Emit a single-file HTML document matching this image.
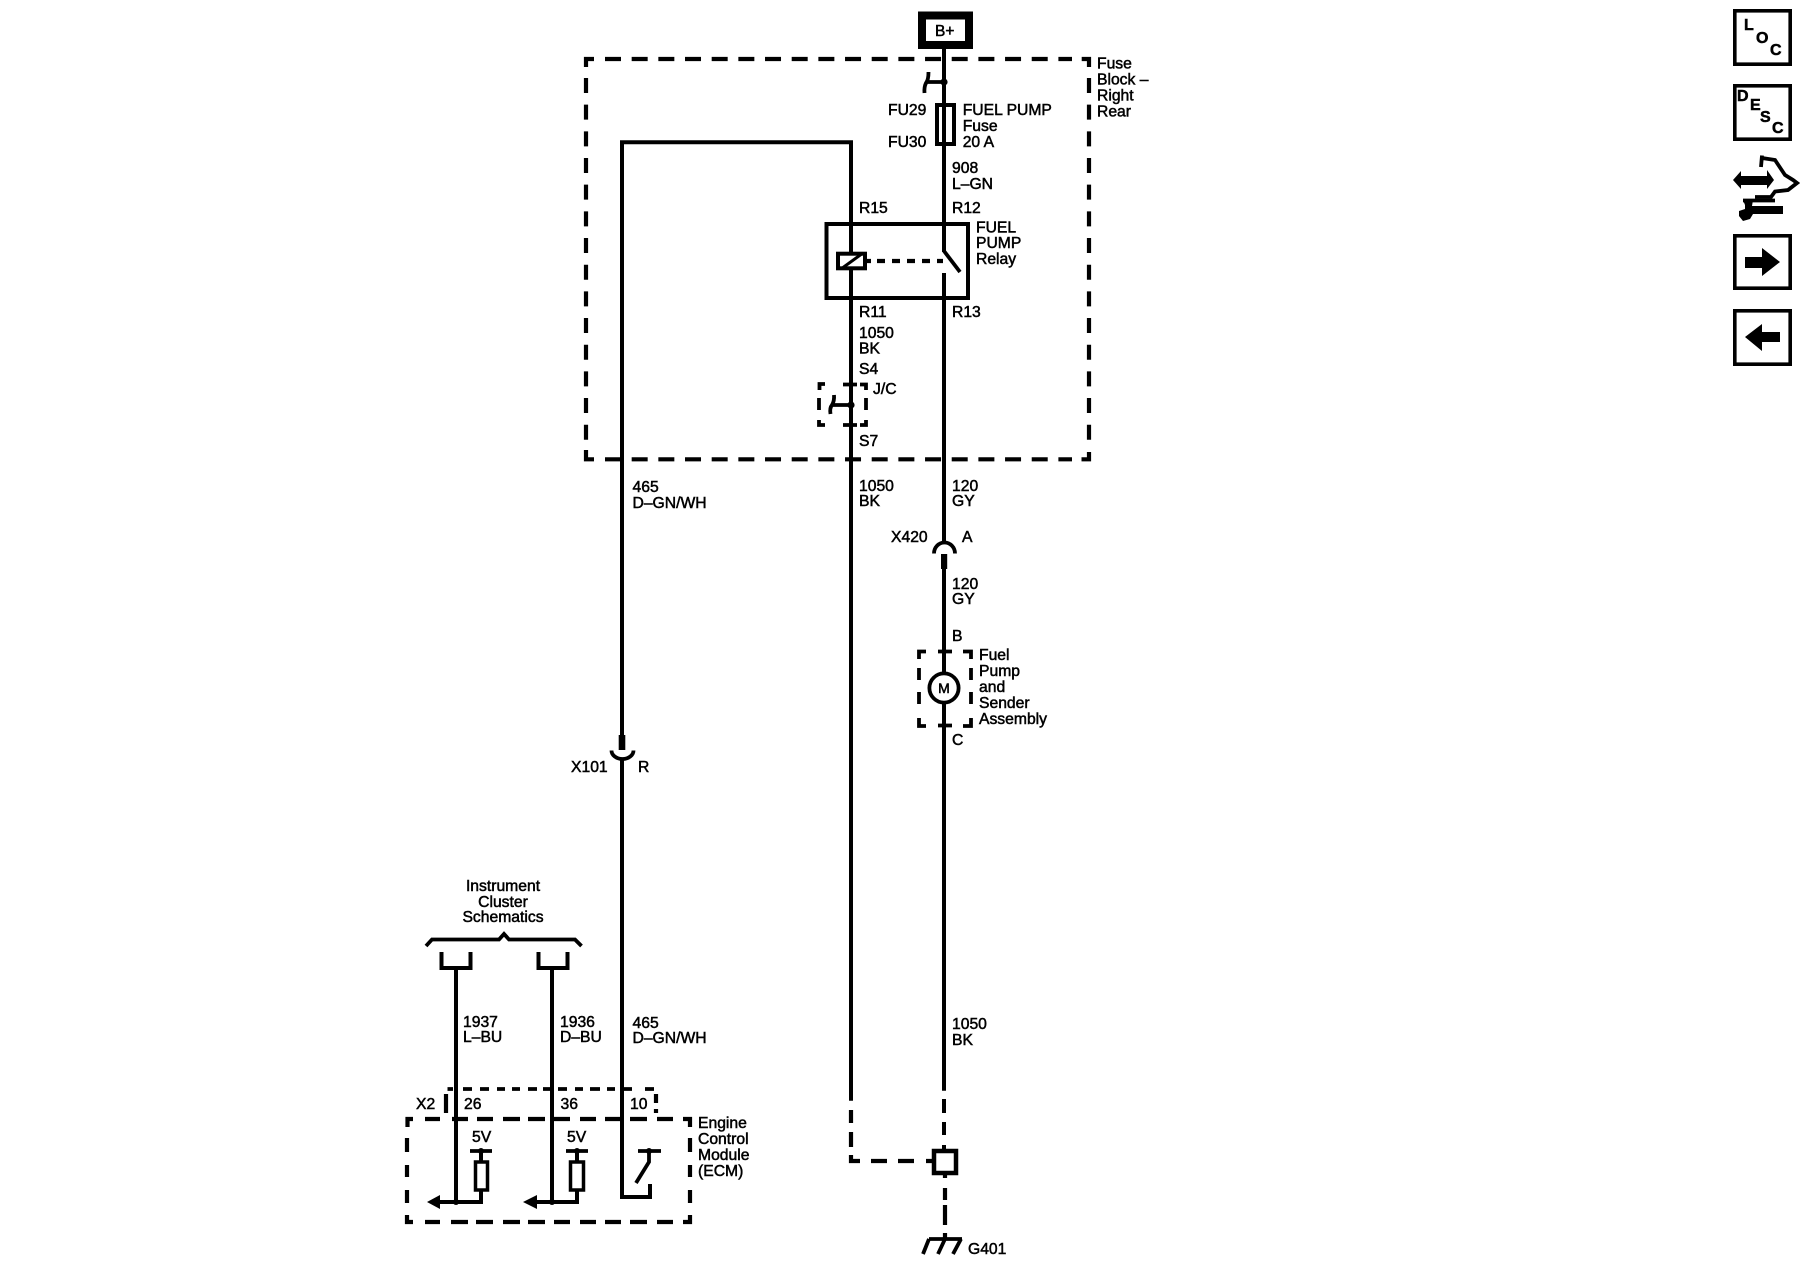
<!DOCTYPE html>
<html>
<head>
<meta charset="utf-8">
<title>Fuel Pump Schematic</title>
<style>
html,body{margin:0;padding:0;background:#fff;width:1800px;height:1280px;overflow:hidden}
svg{display:block}
text{font-family:"Liberation Sans",sans-serif;font-size:15.7px;fill:#000;stroke:#000;stroke-width:.5}
.w{fill:none;stroke:#000;stroke-width:4}
.d{fill:none;stroke:#000;stroke-width:4.2}
.t{fill:none;stroke:#000;stroke-width:3.8}
.b{font-weight:bold;font-size:16px}
</style>
</head>
<body>
<svg width="1800" height="1280" viewBox="0 0 1800 1280" xmlns="http://www.w3.org/2000/svg">
<!-- B+ -->
<rect x="922" y="15.5" width="47" height="29.5" fill="#fff" stroke="#000" stroke-width="8"/>
<text x="935" y="36" style="font-size:15.5px">B+</text>

<!-- Fuse block dashed -->
<path class="d" d="M594 59H586V67"/>
<path class="d" d="M605 59H1072" stroke-dasharray="16 10.67"/>
<path class="d" d="M1081.7 59H1089V67"/>
<path class="d" d="M1089 78V441" stroke-dasharray="15 11.67"/>
<path class="d" d="M1089 452V459.3H1081.5"/>
<path class="d" d="M605 459.3H1072" stroke-dasharray="16 10.67"/>
<path class="d" d="M586 450V459.3H594"/>
<path class="d" d="M586 78V441" stroke-dasharray="15 11.67"/>

<!-- Main right wire -->
<path class="w" d="M944 49V252"/>
<path class="w" d="M944 273V541"/>
<path class="w" d="M944 568V672"/>
<path class="w" d="M944 704V1090.7"/>
<path class="w" d="M944 1099V1113M944 1122V1135M944 1145V1149"/>
<path class="d" d="M945 1175V1178M945 1188V1200M945 1205V1225M945 1233V1239"/>

<!-- Top splice -->
<circle cx="944" cy="82" r="3.6"/>
<path class="t" d="M926 82H944"/>
<path class="t" stroke-width="4" d="M928.5 72Q928.5 80 926 83Q924 87 924.5 93"/>

<!-- Fuse -->
<rect x="937" y="105" width="17" height="39" fill="none" stroke="#000" stroke-width="4"/>

<!-- Left wire / top run -->
<path class="w" d="M622 735V142.2H851V1100.7"/>
<rect x="618.7" y="735" width="6.6" height="15"/>
<path class="t" stroke-width="4" d="M611.5 750.5A11 8.5 0 0 0 633.5 750.5"/>
<path class="w" d="M622 759V1197H650V1184"/>

<!-- Relay -->
<rect x="826.5" y="224" width="141.5" height="74" fill="none" stroke="#000" stroke-width="4"/>
<rect x="838" y="253.7" width="27" height="14.6" fill="#fff" stroke="#000" stroke-width="4"/>
<path d="M851 248V253M851 268V274" class="w"/>
<path d="M843 267.5L863 253" stroke="#000" stroke-width="3" fill="none"/>
<path class="d" d="M867 261H871M877 261H885M892 261H900M907 261H915M922 261H930M937 261H943"/>
<path class="t" d="M944 251L960 272"/>

<!-- J/C box -->
<path class="t" d="M825 384H819.5V390M819 398V410M819 420V425H825M843 384.5H857M860 384.5H866V390M866 398V410M866 420V425H860M843 425H857"/>
<circle cx="851" cy="405" r="3.6"/>
<path class="t" d="M833 405H851"/>
<path class="t" stroke-width="4" d="M834 395Q834.5 401 832 405Q829.5 408 830.5 414"/>

<!-- X420 -->
<path class="t" stroke-width="4" d="M934 553.5A10.5 11 0 0 1 955 553.5"/>
<rect x="941" y="554" width="6.2" height="15"/>

<!-- Motor -->
<path class="t" d="M926 651.5H919V659M919 668V680M919 692V704M919 718V726H926M938 651.5H952M963 651.5H971V659M971 668V680M971 692V704M971 718V726H963M938 725.5H952"/>
<circle cx="944" cy="688" r="14.6" fill="#fff" stroke="#000" stroke-width="3.8"/>
<text x="944" y="693" text-anchor="middle" style="font-size:14px">M</text>

<!-- Ground section -->
<path class="d" d="M851 1110V1123M851 1132V1147"/>
<path class="d" d="M851 1155V1161H860M871 1161H887M898 1161H914M926 1161H932"/>
<rect x="934" y="1151" width="22" height="22" fill="#fff" stroke="#000" stroke-width="4.5"/>
<path class="t" d="M929 1239H962M929 1239L923 1254M945 1239L938 1254M961 1239L953 1254"/>

<!-- Instrument cluster -->
<path class="t" d="M426 946L432 939.5H499L504 934L509 939.5H575L581.5 946"/>
<path class="w" d="M441.5 952V968H470.5V952"/>
<path class="w" d="M538.5 952V968H567.5V952"/>
<path class="w" d="M456 968V1202"/>
<path class="w" d="M552 968V1202"/>

<!-- X2 dashed -->
<path class="t" d="M447.5 1089H453M463 1089H472M480 1089H489M497 1089H505M512 1089H520M528 1089H537M543 1089H550M558 1089H567M575 1089H583M590 1089H600M607 1089H615M622 1089H632M645 1089H654"/>
<path class="d" d="M446 1094V1113M656 1094V1103M656 1109V1113"/>

<!-- ECM dashed -->
<path class="d" d="M413 1119H407.5V1127M425 1119H440M452 1119H468M477 1119H493M503 1119H520M528 1119H545M554 1119H570M580 1119H596M605 1119H621M630 1119H647M657 1119H673M683 1119H690V1127"/>
<path class="d" d="M407 1138V1152M407 1165V1177M407 1190V1203M407 1215V1222H413M425 1222H440M451 1222H468M476 1222H493M503 1222H520M528 1222H545M554 1222H570M580 1222H596M605 1222H621M630 1222H647M657 1222H673M683 1222H690V1215M690 1203V1190M690 1177V1165M690 1152V1138"/>

<!-- ECM internals -->
<path class="t" stroke-width="4" d="M470 1151H492M566 1151H588M638 1151H661"/>
<circle cx="481" cy="1151" r="3"/><circle cx="577" cy="1151" r="3"/><circle cx="649" cy="1151" r="3"/>
<path class="w" d="M481 1151V1161"/><path class="w" d="M577 1151V1161"/>
<rect x="475.5" y="1162" width="12" height="28" fill="#fff" stroke="#000" stroke-width="3.5"/>
<rect x="570.5" y="1162" width="13" height="28" fill="#fff" stroke="#000" stroke-width="3.5"/>
<path class="w" d="M481 1190V1202H438"/>
<path class="w" d="M577 1190V1202H534"/>
<path d="M427 1202L440 1195V1209Z"/><path d="M523 1202L537 1195V1209Z"/>
<circle cx="456" cy="1202" r="3"/><circle cx="552" cy="1202" r="3"/>
<path class="t" d="M649 1151V1162L636 1183"/>

<!-- Labels -->
<text x="1097" y="68.3">Fuse</text>
<text x="1097" y="84.3">Block –</text>
<text x="1097" y="100.5">Right</text>
<text x="1097" y="116.5">Rear</text>
<text x="888" y="115">FU29</text>
<text x="888" y="147">FU30</text>
<text x="962.7" y="115">FUEL PUMP</text>
<text x="962.7" y="131">Fuse</text>
<text x="962.7" y="147">20 A</text>
<text x="952" y="173">908</text>
<text x="952" y="189">L–GN</text>
<text x="859" y="213">R15</text>
<text x="952" y="213">R12</text>
<text x="976" y="232.5">FUEL</text>
<text x="976" y="248">PUMP</text>
<text x="976" y="264">Relay</text>
<text x="859" y="317">R11</text>
<text x="952" y="317">R13</text>
<text x="859" y="338">1050</text>
<text x="859" y="353.5">BK</text>
<text x="859" y="374">S4</text>
<text x="873" y="394">J/C</text>
<text x="859" y="446">S7</text>
<text x="632.5" y="492">465</text>
<text x="632.5" y="508">D–GN/WH</text>
<text x="859" y="491">1050</text>
<text x="859" y="506">BK</text>
<text x="952" y="491">120</text>
<text x="952" y="506">GY</text>
<text x="891" y="542">X420</text>
<text x="962" y="542">A</text>
<text x="952" y="589">120</text>
<text x="952" y="604">GY</text>
<text x="952" y="641">B</text>
<text x="979" y="660">Fuel</text>
<text x="979" y="676">Pump</text>
<text x="979" y="692">and</text>
<text x="979" y="708">Sender</text>
<text x="979" y="724">Assembly</text>
<text x="952" y="745">C</text>
<text x="571" y="772">X101</text>
<text x="638" y="772">R</text>
<text x="503" y="891" text-anchor="middle">Instrument</text>
<text x="503" y="907" text-anchor="middle">Cluster</text>
<text x="503" y="922" text-anchor="middle">Schematics</text>
<text x="463" y="1027">1937</text>
<text x="463" y="1042">L–BU</text>
<text x="560" y="1027">1936</text>
<text x="560" y="1042">D–BU</text>
<text x="632.5" y="1028">465</text>
<text x="632.5" y="1043">D–GN/WH</text>
<text x="952" y="1029">1050</text>
<text x="952" y="1045">BK</text>
<text x="416" y="1109">X2</text>
<text x="464" y="1109">26</text>
<text x="560.5" y="1109">36</text>
<text x="630" y="1109">10</text>
<text x="472" y="1142">5V</text>
<text x="567" y="1142">5V</text>
<text x="698" y="1128">Engine</text>
<text x="698" y="1144">Control</text>
<text x="698" y="1160">Module</text>
<text x="698" y="1176">(ECM)</text>
<text x="968" y="1254">G401</text>

<!-- Side icons -->
<rect x="1734.8" y="10.8" width="55.4" height="53.4" fill="#fff" stroke="#000" stroke-width="3.6"/>
<text class="b" x="1744" y="30">L</text>
<text class="b" x="1756" y="43">O</text>
<text class="b" x="1770" y="55">C</text>
<rect x="1734.8" y="85.8" width="55.4" height="53.4" fill="#fff" stroke="#000" stroke-width="3.6"/>
<text class="b" x="1737" y="101">D</text>
<text class="b" x="1750" y="110">E</text>
<text class="b" x="1760" y="122">S</text>
<text class="b" x="1772" y="133">C</text>

<path d="M1733 180L1741 171V176H1767V170L1774 180L1767 189V185H1741V189Z"/>
<path class="t" stroke-width="4.2" d="M1762 155.5L1761 167M1762 158L1775 160L1785 175L1793 180L1797 183L1788 190L1775 191.5L1771 197H1755"/>
<path d="M1743 200H1753L1752 206H1783V214H1753L1750 219L1743 221L1739 216L1739 211L1745 209L1745 205Z"/>
<path class="t" stroke-width="1.6" d="M1743 200.5H1775"/>

<rect x="1734.8" y="235.8" width="55.4" height="52.4" fill="#fff" stroke="#000" stroke-width="3.6"/>
<path d="M1745 257H1762V248L1780 262L1762 276V268H1745Z"/>
<rect x="1734.8" y="310.8" width="55.4" height="53.4" fill="#fff" stroke="#000" stroke-width="3.6"/>
<path d="M1780 332H1762V324L1745 337L1762 351V342H1780Z"/>
</svg>
</body>
</html>
